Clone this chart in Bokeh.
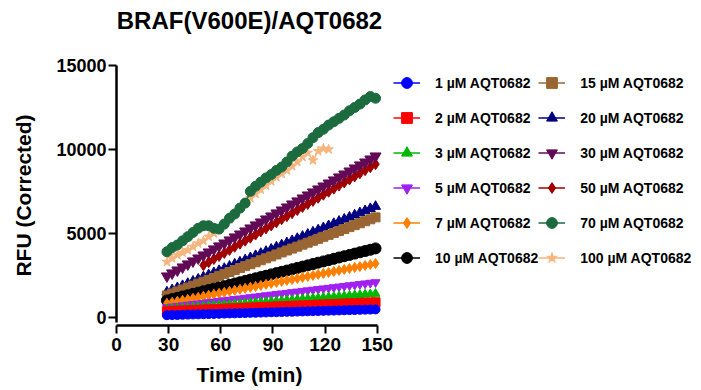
from bokeh.plotting import figure
from bokeh.models import Legend, LegendItem, Range1d, FixedTicker, Title
from bokeh.embed import file_html
from bokeh.resources import INLINE

nan = float("nan")

time_min = [29, 32, 35, 38, 41, 44, 47, 50, 53, 56, 59, 62, 65, 68, 71, 74, 77, 80, 83, 86,
            89, 92, 95, 98, 101, 104, 107, 110, 113, 116, 119, 122, 125, 128, 131, 134, 137,
            140, 143, 146, 149]

labels = ["1 µM AQT0682", "2 µM AQT0682", "3 µM AQT0682", "5 µM AQT0682",
          "7 µM AQT0682", "10 µM AQT0682", "15 µM AQT0682", "20 µM AQT0682",
          "30 µM AQT0682", "50 µM AQT0682", "70 µM AQT0682", "100 µM AQT0682"]

rfu_1 = [120, 130, 135, 145, 155, 165, 170, 180, 190, 195, 205, 215, 225, 230, 240, 250, 260, 265, 275, 285,
         295, 300, 310, 320, 325, 335, 345, 355, 360, 370, 380, 390, 395, 405, 415, 425, 430, 440, 450, 455, 465]
rfu_2 = [360, 375, 385, 400, 415, 425, 440, 455, 465, 480, 495, 505, 520, 530, 545, 560, 570, 585, 600, 610,
         625, 640, 650, 665, 680, 690, 705, 715, 730, 745, 755, 770, 785, 795, 810, 825, 835, 850, 865, 875, 890]
rfu_3 = [480, 505, 525, 550, 570, 595, 620, 640, 665, 685, 710, 735, 755, 780, 800, 825, 850, 870, 895, 915,
         940, 965, 985, 1010, 1030, 1055, 1080, 1100, 1125, 1145, 1170, 1195, 1215, 1240, 1260, 1285, 1310,
         1330, 1355, 1375, 1400]
rfu_5 = [590, 630, 665, 700, 740, 775, 815, 850, 890, 925, 965, 1000, 1035, 1075, 1110, 1150, 1185, 1225,
         1260, 1300, 1335, 1370, 1410, 1445, 1485, 1520, 1560, 1595, 1635, 1670, 1710, 1745, 1780, 1820,
         1855, 1895, 1930, 1970, 2005, 2045, 2080]
rfu_7 = [830, 890, 950, 1010, 1065, 1125, 1185, 1245, 1305, 1365, 1425, 1480, 1540, 1600, 1660, 1720, 1780,
         1835, 1895, 1955, 2015, 2075, 2135, 2195, 2250, 2310, 2370, 2430, 2490, 2550, 2610, 2665, 2725,
         2785, 2845, 2905, 2965, 3020, 3080, 3140, 3200]
rfu_10 = [1000, 1080, 1155, 1235, 1310, 1390, 1465, 1545, 1620, 1700, 1775, 1850, 1930, 2010, 2085, 2160,
          2240, 2320, 2395, 2470, 2550, 2630, 2705, 2780, 2860, 2940, 3015, 3090, 3170, 3250, 3325, 3400,
          3480, 3560, 3635, 3710, 3790, 3870, 3945, 4020, 4100]
rfu_15 = [1300, 1415, 1535, 1650, 1765, 1880, 2000, 2115, 2230, 2345, 2465, 2580, 2695, 2810, 2930, 3045,
          3160, 3275, 3395, 3510, 3625, 3740, 3860, 3975, 4090, 4205, 4325, 4440, 4555, 4670, 4790, 4905,
          5020, 5135, 5255, 5370, 5485, 5600, 5720, 5835, 5950]
rfu_20 = [1500, 1630, 1755, 1880, 2010, 2140, 2265, 2395, 2520, 2650, 2775, 2900, 3030, 3160, 3285, 3410,
          3540, 3670, 3795, 3920, 4050, 4180, 4305, 4430, 4560, 4690, 4815, 4940, 5070, 5200, 5325, 5450,
          5580, 5710, 5835, 5960, 6090, 6220, 6345, 6470, 6600]
rfu_30 = [2450, 2630, 2805, 2985, 3165, 3345, 3520, 3700, 3880, 4060, 4240, 4415, 4595, 4775, 4950, 5130,
          5310, 5490, 5665, 5845, 6025, 6205, 6380, 6560, 6740, 6920, 7095, 7275, 7455, 7635, 7810, 7990,
          8170, 8350, 8525, 8705, 8885, 9065, 9240, 9420, 9600]
rfu_50 = [nan, nan, nan, nan, nan, nan, nan, 3100, 3280, 3465, 3650, 3830, 4010, 4195, 4380, 4560, 4740,
          4925, 5110, 5290, 5470, 5655, 5840, 6020, 6200, 6385, 6570, 6750, 6930, 7115, 7300, 7480, 7660,
          7845, 8030, 8210, 8390, 8575, 8760, 8940, 9120]
rfu_70 = [3900, 4150, 4300, 4550, 4800, 5050, 5300, 5450, 5450, 5300, 5250, 5550, 5900, 6150, 6500, 6800,
          7500, 7800, 8050, 8300, 8500, 8750, 8950, 9250, 9600, 9850, 10050, 10350, 10700, 11000, 11200,
          11450, 11650, 11850, 12050, 12300, 12500, 12700, 12950, 13150, 13050]
rfu_100 = [3300, 3500, 3700, 3850, 4000, 4200, 4400, 4550, 4800, 5000, 5250, 5550, 5850, 6200, 6500, 6750,
           7100, 7350, 7600, 7850, 8100, 8350, 8550, 8750, 9000, 9250, 9550, 9800, 9350, 9900, 10050, 10000,
           nan, nan, nan, nan, nan, nan, nan, nan, nan]

series = [rfu_1, rfu_2, rfu_3, rfu_5, rfu_7, rfu_10, rfu_15, rfu_20, rfu_30, rfu_50, rfu_70, rfu_100]

x_ticks = [0, 30, 60, 90, 120, 150]
y_ticks = [0, 5000, 10000, 15000]

colors = ["#0000FF", "#FF0000", "#00B800", "#A020F0", "#FF8000", "#000000",
          "#996633", "#000080", "#620A55", "#A00000", "#1B6B3E", "#F7B57E"]
markers = ["circle", "square", "triangle", "inverted_triangle", "diamond", "circle",
           "square", "triangle", "inverted_triangle", "diamond", "circle", "star"]
sizes = [9, 9, 9, 9, 10, 11, 9, 10, 11, 11, 10, 10]

FONT = "Liberation Sans"

p = figure(frame_width=266, frame_height=260, output_backend="svg", toolbar_location=None,
           x_range=Range1d(0, 153), y_range=Range1d(-494, 15000),
           min_border_left=116, min_border_right=0, min_border_top=65, min_border_bottom=65)
p.outline_line_color = None
p.grid.visible = False
p.background_fill_color = "white"
p.title.text = ""
p.title.visible = False

spacer = Title(text=" ", text_font_size="1px", standoff=29)
p.add_layout(spacer, "above")
main_title = Title(text="BRAF(V600E)/AQT0682", text_font=FONT, text_font_size="24px",
                   text_font_style="bold", text_color="black", align="center", standoff=0)
p.add_layout(main_title, "above")

for ax in (p.xaxis[0], p.yaxis[0]):
    ax.axis_line_width = 2.5
    ax.major_tick_line_width = 2
    ax.major_tick_out = 8
    ax.major_tick_in = 0
    ax.minor_tick_out = 0
    ax.minor_tick_in = 0
    ax.major_label_text_font = FONT
    ax.major_label_text_font_style = "bold"
    ax.major_label_text_color = "black"
    ax.axis_label_text_font = FONT
    ax.axis_label_text_font_size = "21px"
    ax.axis_label_text_font_style = "bold"
    ax.axis_label_text_color = "black"

p.xaxis.major_label_text_font_size = "19px"
p.yaxis.major_label_text_font_size = "18px"
p.xaxis.ticker = FixedTicker(ticks=x_ticks)
p.yaxis.ticker = FixedTicker(ticks=y_ticks)
p.xaxis.bounds = (0, 150)
p.yaxis.bounds = (-315, 15000)
p.xaxis.axis_label = "Time (min)"
p.yaxis.axis_label = "RFU (Corrected)"
p.xaxis.major_label_standoff = 4
p.yaxis.major_label_standoff = 2
p.xaxis.axis_label_standoff = 9
p.yaxis.axis_label_standoff = 18

rends = {}
for i in reversed(range(len(series))):
    ln = p.line(time_min, series[i], line_color=colors[i], line_width=1.5)
    sc = p.scatter(time_min, series[i], marker=markers[i], size=sizes[i],
                   fill_color=colors[i], line_color=colors[i])
    rends[i] = [ln, sc]

items = [LegendItem(label=labels[i], renderers=rends[i]) for i in range(len(series))]
legend = Legend(items=items, ncols=2, location=(11, 50))
legend.label_text_font = FONT
legend.label_text_font_size = "14px"
legend.label_text_font_style = "bold"
legend.label_text_color = "black"
legend.glyph_width = 27
legend.glyph_height = 35
legend.label_height = 35
legend.label_standoff = 15
legend.spacing = 0
legend.padding = 0
legend.margin = 0
legend.border_line_color = None
legend.background_fill_alpha = 0
p.add_layout(legend, "right")

open("out.html", "w").write(file_html(p, INLINE))
